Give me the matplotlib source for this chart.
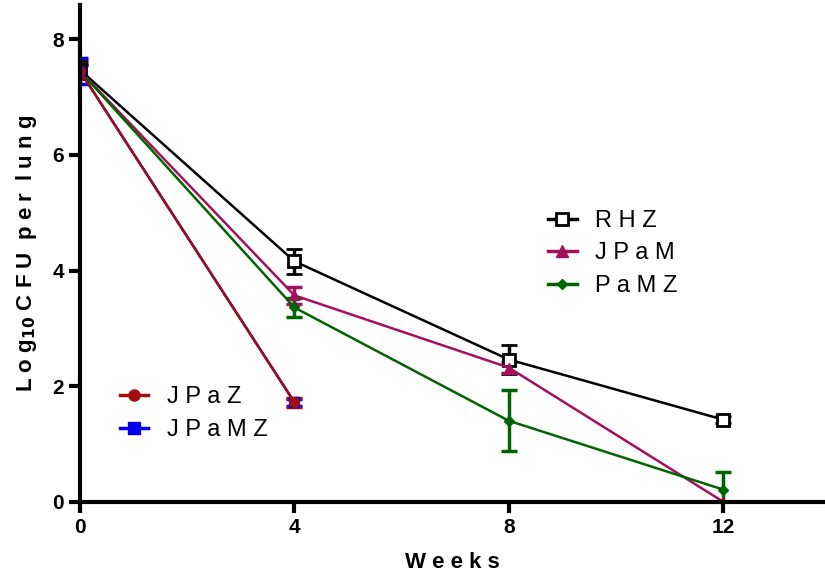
import matplotlib
matplotlib.use("Agg")
import matplotlib.pyplot as plt
from matplotlib.lines import Line2D
import numpy as np

plt.rcParams['font.family'] = ['Liberation Sans', 'DejaVu Sans']

weeks = [0, 4, 8, 12]
weeks_short = [0, 4]

rhz = [7.47, 4.16, 2.46, 1.42]
rhz_err = [0.15, 0.22, 0.25, 0.06]
jpam = [7.45, 3.57, 2.32, 0.0]
jpam_err = [0.12, 0.15, 0.1, 0.0]
pamz = [7.45, 3.36, 1.40, 0.21]
pamz_err = [0.1, 0.17, 0.53, 0.31]
jpaz = [7.45, 1.72]
jpaz_err = [0.1, 0.08]
jpamz = [7.45, 1.72]
jpamz_err = [0.22, 0.06]

c_rhz, c_jpam, c_pamz, c_jpaz, c_jpamz = 'black', '#A3105C', '#006400', '#A01010', '#0000EE'

fig = plt.figure(figsize=(8.25, 5.78), dpi=100)
ax = fig.add_axes([0.097, 0.132, 0.903, 0.86])

lw = 1.8
kw = dict(capsize=6, capthick=2.5, elinewidth=2.5, lw=lw)
ax.errorbar(weeks, rhz, yerr=rhz_err, color=c_rhz, marker='s', ms=8,
            mfc='white', mec='black', mew=2, **kw)
ax.errorbar(weeks, jpam, yerr=jpam_err, color=c_jpam, marker='^', ms=7, **kw)
ax.errorbar(weeks, pamz, yerr=pamz_err, color=c_pamz, marker='D', ms=5, **kw)
ax.errorbar(weeks_short, jpamz, yerr=jpamz_err, color=c_jpamz, marker='s',
            ms=7, **kw)
ax.errorbar(weeks_short, jpaz, yerr=jpaz_err, color=c_jpaz, marker='o',
            ms=7, **kw)

ax.set_xlim(0, 13.9)
ax.set_ylim(0, 8.6)
ax.set_xticks([0, 4, 8, 12])
ax.set_yticks([0, 2, 4, 6, 8])
for s in ['top', 'right']:
    ax.spines[s].set_visible(False)
for s in ['left', 'bottom']:
    ax.spines[s].set_linewidth(3)
ax.tick_params(width=3, length=8, labelsize=15, direction='out')
for t in ax.get_xticklabels() + ax.get_yticklabels():
    t.set_fontweight('bold')

ax.set_xlabel('W e e k s', fontsize=16, fontweight='bold', labelpad=11)
ax.set_ylabel(r'L o g$_{\mathbf{10}}$ C F U  p e r  l u n g', fontsize=16,
              fontweight='bold', labelpad=10)

h1 = [Line2D([], [], color=c_rhz, marker='s', ms=8, mfc='white', mew=2, lw=2.5),
      Line2D([], [], color=c_jpam, marker='^', ms=8, lw=2.5),
      Line2D([], [], color=c_pamz, marker='D', ms=5, lw=2.5)]
h2 = [Line2D([], [], color=c_jpaz, marker='o', ms=8, lw=2.5),
      Line2D([], [], color=c_jpamz, marker='s', ms=8, lw=2.5)]
leg1 = ax.legend(h1, ['R H Z', 'J P a M', 'P a M Z'], loc='upper left',
                 bbox_to_anchor=(0.6, 0.63), frameon=False, fontsize=17,
                 handlelength=1.2, handletextpad=0.8, labelspacing=0.45)
ax.add_artist(leg1)
ax.legend(h2, ['J P a Z', 'J P a M Z'], loc='upper left',
          bbox_to_anchor=(0.025, 0.275), frameon=False, fontsize=17,
          handlelength=1.2, handletextpad=0.8, labelspacing=0.45)

plt.savefig('out.png')
plt.close()
